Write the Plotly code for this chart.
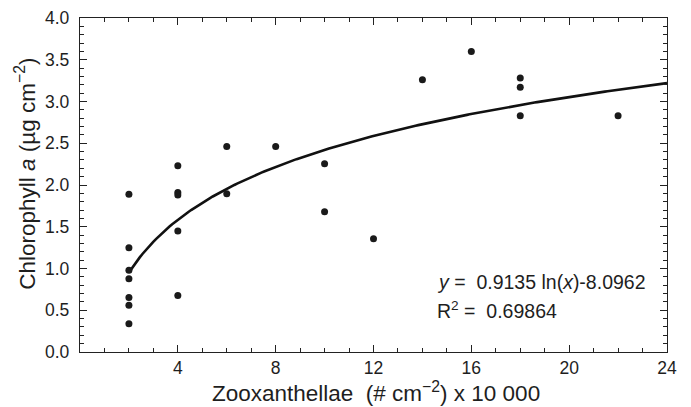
import numpy as np
import plotly.graph_objects as go

# Observed data (zooxanthellae x 10 000 per cm2, chlorophyll a ug/cm2)
zoox = [2, 2, 2, 2, 2, 2, 2,
        4, 4, 4, 4, 4,
        6, 6,
        8,
        10, 10,
        12,
        14,
        16,
        18, 18, 18,
        22]
chl = [1.89, 1.25, 0.98, 0.876, 0.652, 0.56, 0.337,
       2.23, 1.91, 1.88, 1.45, 0.676,
       2.46, 1.896,
       2.46,
       2.255, 1.68,
       1.355,
       3.26,
       3.60,
       3.28, 3.17, 2.83,
       2.83]

# Logarithmic fit shown on the chart
fit_slope = 0.9135
fit_intercept = -8.0962
fit_r2 = 0.69864
x_scale = 10000

x_ticks = [4, 8, 12, 16, 20, 24]
y_ticks = [0.0, 0.5, 1.0, 1.5, 2.0, 2.5, 3.0, 3.5, 4.0]

xfit = np.linspace(2, 24, 200)
yfit = fit_slope * np.log(xfit * x_scale) + fit_intercept

FONT = "Liberation Sans, Arial, Helvetica, sans-serif"
TXT = "#1e1e1e"
TICKSZ = 17.5
TITLESZ = 22.5

fig = go.Figure()
fig.add_trace(go.Scatter(x=xfit, y=yfit, mode="lines",
                         line=dict(color="#111111", width=2.6),
                         hoverinfo="skip", showlegend=False))
fig.add_trace(go.Scatter(x=zoox, y=chl, mode="markers",
                         marker=dict(color="#1a1a1a", size=7, line=dict(width=0)),
                         showlegend=False))

fig.update_layout(
    width=691, height=407,
    margin=dict(l=80, r=24, t=18, b=55, autoexpand=False),
    plot_bgcolor="white", paper_bgcolor="white",
    font=dict(family=FONT, color=TXT, size=TICKSZ),
    xaxis=dict(
        range=[0, 24], tickvals=x_ticks, ticktext=[str(v) for v in x_ticks],
        ticks="inside", ticklen=7, tickwidth=1.2, tickcolor="#222",
        minor=dict(dtick=1, tick0=0, ticks="inside", ticklen=4, tickwidth=1, tickcolor="#222", showgrid=False),
        showline=True, linecolor="#222", linewidth=1.3, mirror="ticks",
        showgrid=False, zeroline=False, automargin=False,
        tickfont=dict(size=TICKSZ, family=FONT, color=TXT),
    ),
    yaxis=dict(
        range=[0, 4.0], tickvals=y_ticks, ticktext=[f"{v:.1f}" for v in y_ticks],
        ticks="inside", ticklen=7, tickwidth=1.2, tickcolor="#222",
        minor=dict(dtick=0.1, tick0=0, ticks="inside", ticklen=4, tickwidth=1, tickcolor="#222", showgrid=False),
        showline=True, linecolor="#222", linewidth=1.3, mirror="ticks",
        showgrid=False, zeroline=False, ticklabelstandoff=6, automargin=False,
        tickfont=dict(size=TICKSZ, family=FONT, color=TXT),
    ),
)

# Axis titles placed as annotations to match their positions
fig.add_annotation(x=0, y=(352.5 - 174) / 334.5, xref="paper", yref="paper",
                   xanchor="center", yanchor="middle", xshift=-55, textangle=-90,
                   text="Chlorophyll <i>a</i> (µg cm<sup>−2</sup>)", showarrow=False,
                   font=dict(size=TITLESZ, family=FONT, color=TXT))
fig.add_annotation(x=(376 - 79.5) / 587.5, y=(352.5 - 393) / 334.5, xref="paper", yref="paper",
                   xanchor="center", yanchor="middle",
                   text="Zooxanthellae  (# cm<sup>−2</sup>) x 10 000", showarrow=False,
                   font=dict(size=TITLESZ, family=FONT, color=TXT))

fig.add_annotation(x=14.53, y=0.843, xref="x", yref="y", xanchor="left", yanchor="middle",
                   text=f"<i>y</i> =  {fit_slope} ln(<i>x</i>){fit_intercept}",
                   showarrow=False, font=dict(size=19.5, family=FONT, color=TXT))
fig.add_annotation(x=14.53, y=0.508, xref="x", yref="y", xanchor="left", yanchor="middle",
                   text=f"R<sup>2</sup> =  {fit_r2}",
                   showarrow=False, font=dict(size=19.5, family=FONT, color=TXT))

fig.write_html("out.html")
